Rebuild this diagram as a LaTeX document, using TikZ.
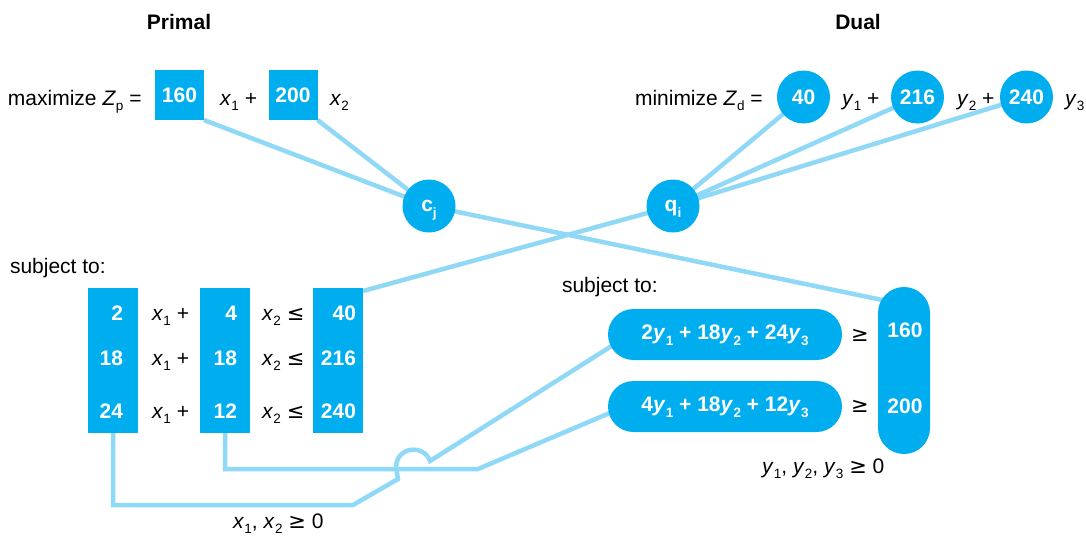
\documentclass[tikz,border=0pt]{standalone}
\usepackage{fontspec}
\setmainfont{Liberation Sans}
\newfontfamily\symf{DejaVu Sans}
\usetikzlibrary{backgrounds}
\definecolor{nodeblue}{RGB}{0,174,239}
\definecolor{lineblue}{RGB}{143,216,246}
\newcommand\fs{\fontsize{21pt}{25pt}\selectfont}
\newcommand\sbs[1]{\raisebox{-5.5pt}[0pt][0pt]{\fontsize{13.5pt}{14pt}\selectfont #1}}
\newcommand\iv[2]{\textit{#1}\kern0.3pt\sbs{#2}}
\newcommand\lee{{\symf\mdseries ≤}}
\newcommand\gee{{\symf\mdseries ≥}}
\begin{document}
\begin{tikzpicture}[x=1pt,y=-1pt,
  every node/.style={inner sep=0pt, outer sep=0pt},
  box/.style={fill=nodeblue, minimum width=49pt, minimum height=50pt, text=white, font=\fs\bfseries},
  circ/.style={circle, fill=nodeblue, minimum size=53pt, text=white, font=\fs\bfseries, text depth=0pt},
  col/.style={fill=nodeblue, minimum width=50pt, minimum height=145pt},
  pill/.style={fill=nodeblue, rounded corners=25.5pt, minimum width=234pt, minimum height=51pt, text=white, font=\fs\bfseries},
  conn/.style={draw=lineblue, line width=4.5pt},
  lbl/.style={font=\fs, anchor=base west},
  num/.style={font=\fs\bfseries, text=white, anchor=base east},
  head/.style={font=\fs\bfseries, anchor=base}]
\useasboundingbox (0,0) rectangle (1086,539);

% headings
\node[head] (primal) at (179,29) {Primal};
\node[head] (dual) at (858,29) {Dual};

% primal objective
\node[lbl] (maxz) at (8,105) {maximize \textit{Z}\sbs{p} =};
\node[box] (b160) at (179.5,95) {160};
\node[lbl] (x1t) at (220,105) {\iv{x}{1} +};
\node[box] (b200) at (293,95) {200};
\node[lbl] (x2t) at (330,105) {\iv{x}{2}};

% dual objective
\node[lbl] (minz) at (635,105) {minimize \textit{Z}\sbs{d} =};
\node[circ] (d40) at (803.5,97) {40};
\node[lbl] (y1t) at (842,105) {\iv{y}{1} +};
\node[circ] (d216) at (917.5,97) {216};
\node[lbl] (y2t) at (957,105) {\iv{y}{2} +};
\node[circ] (d240) at (1026.5,97) {240};
\node[lbl] (y3t) at (1065,105) {\iv{y}{3}};

% hubs
\node[circ] (cj) at (429,206) {c\sbs{j}};
\node[circ] (qi) at (673,206) {q\sbs{i}};

% primal constraints
\node[lbl] (subj1) at (10,273) {subject to:};
\node[col] (c1) at (113,360.5) {};
\node[col] (c2) at (225,360.5) {};
\node[col] (c3) at (338,360.5) {};
\node[num] (a11) at (123,320) {2};
\node[num] (a21) at (123,365) {18};
\node[num] (a31) at (123,418) {24};
\node[num] (a12) at (237,320) {4};
\node[num] (a22) at (237,365) {18};
\node[num] (a32) at (237,418) {12};
\node[num] (r1) at (356,320) {40};
\node[num] (r2) at (356,365) {216};
\node[num] (r3) at (356,418) {240};
\node[lbl] (x1a) at (152,320) {\iv{x}{1} +};
\node[lbl] (x1b) at (152,365) {\iv{x}{1} +};
\node[lbl] (x1c) at (152,418) {\iv{x}{1} +};
\node[lbl] (x2a) at (262,320) {\iv{x}{2} \lee};
\node[lbl] (x2b) at (262,365) {\iv{x}{2} \lee};
\node[lbl] (x2c) at (262,418) {\iv{x}{2} \lee};
\node[lbl] (xnn) at (233,528) {\iv{x}{1}, \iv{x}{2} \gee{} 0};

% dual constraints
\node[lbl] (subj2) at (562,292) {subject to:};
\node[pill] (p1) at (725,334.5) {2\iv{y}{1} + 18\iv{y}{2} + 24\iv{y}{3}};
\node[pill] (p2) at (725,406.5) {4\iv{y}{1} + 18\iv{y}{2} + 12\iv{y}{3}};
\node[font=\fs] (ge1) at (860,335) {\gee};
\node[font=\fs] (ge2) at (860,406) {\gee};
\node[fill=nodeblue, rounded corners=26pt, minimum width=52pt, minimum height=167pt] (pr) at (904,370.5) {};
\node[num, anchor=base] (n160) at (905,337) {160};
\node[num, anchor=base] (n200) at (905,413) {200};
\node[lbl] (ynn) at (762,473) {\iv{y}{1}, \iv{y}{2}, \iv{y}{3} \gee{} 0};

% connectors
\begin{pgfonlayer}{background}
\draw[conn] (b160.south east) -- (cj.center);
\draw[conn] (b200.south east) -- (cj.center);
\draw[conn] (cj.center) -- ([shift={(-12,15)}]pr.north);
\draw[conn] (qi.center) -- (d40.center);
\draw[conn] (qi.center) -- (d216.center);
\draw[conn] (qi.center) -- (d240.center);
\draw[conn] (qi.center) -- ([shift={(0,3)}]c3.north east);
\coordinate (j1) at (353,505);
\coordinate (h1) at (398,479);
\coordinate (h2) at (396,468);
\coordinate (h3) at (430,461);
\coordinate (j2) at (478,469);
\draw[conn] (c1.south) |- (j1) -- (h1) -- (h2) .. controls (396,446) and (424,444) .. (h3) -- ([shift={(17,3)}]p1.west);
\draw[conn] (c2.south) |- (j2) -- ([shift={(17,0)}]p2.west);
\end{pgfonlayer}
\end{tikzpicture}
\end{document}
